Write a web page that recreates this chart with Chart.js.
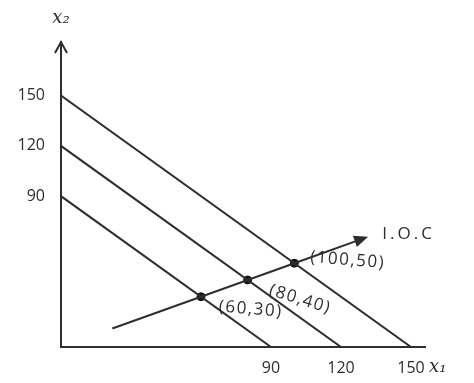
<!DOCTYPE html>
<html>
<head>
<meta charset="utf-8">
<script src="https://cdn.jsdelivr.net/npm/chart.js@4.4.1/dist/chart.umd.min.js"></script>
<style>
  html, body { margin: 0; padding: 0; background: #fff; }
  #wrap { width: 474px; height: 383px; }
</style>
</head>
<body>
<div id="wrap"><canvas id="ioc" width="474" height="383"></canvas></div>
<script>
// budget line intercepts (income levels), same on both axes
const incomes = [90, 120, 150];
const xTicks = [90, 120, 150];
const yTicks = [90, 120, 150];

// optimal bundles on each budget line
const optX = [60, 80, 100];
const optY = [30, 40, 50];
const optLabels = ['(60,30)', '(80,40)', '(100,50)'];

// income offer curve as drawn
const iocX = [22, 60, 80, 100, 130];
const iocY = [11, 30, 40, 50, 65];

const ink = '#2e2e2e';
const handFont = '"Open Sans", "DejaVu Sans", sans-serif';

const budgetSets = incomes.map(m => ({
  data: [{ x: 0, y: m }, { x: m, y: 0 }],
  showLine: true,
  borderColor: ink,
  borderWidth: 2,
  pointRadius: 0
}));

const iocSet = {
  data: iocX.map((v, i) => ({ x: v, y: iocY[i] })),
  showLine: true,
  borderColor: ink,
  borderWidth: 2,
  pointRadius: 0
};

const dotSet = {
  data: optX.map((v, i) => ({ x: v, y: optY[i] })),
  showLine: false,
  backgroundColor: '#111',
  borderColor: '#111',
  pointRadius: 4
};

const sketchExtras = {
  id: 'sketchExtras',
  afterDatasetsDraw(chart) {
    const { ctx, chartArea, scales: { x, y } } = chart;
    ctx.save();
    ctx.strokeStyle = ink;
    ctx.fillStyle = ink;
    ctx.lineWidth = 2;

    // open arrow on top of the x2 axis
    const ax = x.getPixelForValue(0);
    const ay = y.top;
    ctx.beginPath();
    ctx.moveTo(ax - 6, ay + 11);
    ctx.lineTo(ax, ay);
    ctx.lineTo(ax + 6, ay + 11);
    ctx.stroke();

    // filled arrow at the end of the I.O.C
    const n = iocX.length;
    const px = x.getPixelForValue(iocX[n - 1]), py = y.getPixelForValue(iocY[n - 1]);
    const qx = x.getPixelForValue(iocX[n - 2]), qy = y.getPixelForValue(iocY[n - 2]);
    const a = Math.atan2(py - qy, px - qx);
    ctx.beginPath();
    ctx.moveTo(px + 4 * Math.cos(a), py + 4 * Math.sin(a));
    ctx.lineTo(px - 10 * Math.cos(a) - 6 * Math.sin(a), py - 10 * Math.sin(a) + 6 * Math.cos(a));
    ctx.lineTo(px - 10 * Math.cos(a) + 6 * Math.sin(a), py - 10 * Math.sin(a) - 6 * Math.cos(a));
    ctx.closePath();
    ctx.fill();

    ctx.font = '17px ' + handFont;
    ctx.letterSpacing = '3px';
    ctx.textBaseline = 'middle';
    ctx.textAlign = 'left';
    ctx.fillText('I.O.C', px + 18, py - 4);

    // bundle labels
    ctx.letterSpacing = '1.5px';
    const offs = [[18, 10, 0.08], [22, 10, 0.3], [16, -6, 0.08]];
    optX.forEach((v, i) => {
      const dx = x.getPixelForValue(v), dy = y.getPixelForValue(optY[i]);
      ctx.save();
      ctx.translate(dx + offs[i][0], dy + offs[i][1]);
      ctx.rotate(offs[i][2]);
      ctx.fillText(optLabels[i], 0, 0);
      ctx.restore();
    });

    // axis names
    ctx.letterSpacing = '0px';
    ctx.font = 'italic 18px "DejaVu Serif", serif';
    ctx.textAlign = 'center';
    ctx.fillText('x\u2082', ax, ay - 24);
    ctx.textAlign = 'left';
    ctx.fillText('x\u2081', chartArea.right + 4, chartArea.bottom + 20);
    ctx.restore();
  }
};

new Chart(document.getElementById('ioc'), {
  type: 'scatter',
  data: { datasets: [...budgetSets, iocSet, dotSet] },
  options: {
    responsive: false,
    animation: false,
    layout: { padding: { top: 42, right: 49, left: 0, bottom: 0 } },
    plugins: { legend: { display: false }, tooltip: { enabled: false } },
    scales: {
      x: {
        type: 'linear',
        min: 0,
        max: 156,
        afterBuildTicks: s => { s.ticks = xTicks.map(v => ({ value: v })); },
        afterFit: s => { s.height = 36; },
        grid: { display: false, drawTicks: false },
        border: { display: true, color: ink, width: 2 },
        ticks: { color: ink, padding: 12, font: { family: handFont, size: 16 } }
      },
      y: {
        type: 'linear',
        min: 0,
        max: 182,
        afterBuildTicks: s => { s.ticks = yTicks.map(v => ({ value: v })); },
        afterFit: s => { s.width = 61; },
        grid: { display: false, drawTicks: false },
        border: { display: true, color: ink, width: 2 },
        ticks: { color: ink, padding: 16, font: { family: handFont, size: 16 } }
      }
    }
  },
  plugins: [sketchExtras]
});
</script>
</body>
</html>
